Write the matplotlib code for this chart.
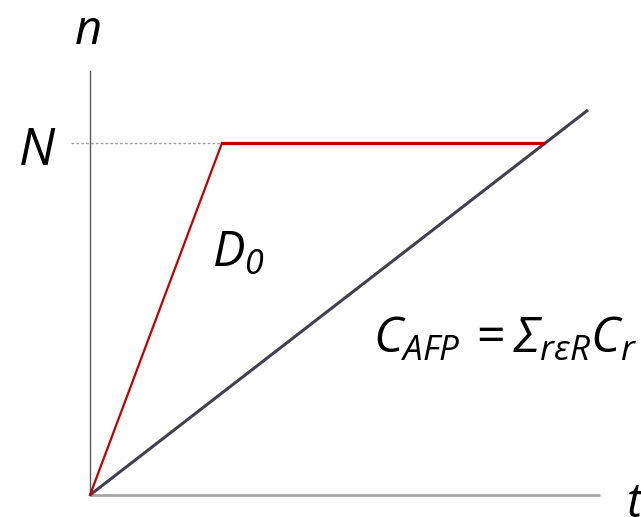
import matplotlib
matplotlib.use("Agg")
import matplotlib.pyplot as plt

plt.rcParams['font.family'] = ['Open Sans', 'DejaVu Sans']
plt.rcParams['mathtext.fontset'] = 'custom'
plt.rcParams['mathtext.rm'] = 'Open Sans:italic'
plt.rcParams['mathtext.it'] = 'Open Sans:italic'

# --- Data (arbitrary units, origin at 0,0) ---
N = 352
red_t = [0, 132, 455]
red_n = [0, N, N]
cap_t = [0, 498]
cap_n = [0, 385]
x_axis_end = 510
y_axis_end = 424
dash_start = -19

fig = plt.figure(figsize=(6.41, 5.17), dpi=100)
ax = fig.add_axes([0, 0, 1, 1])
ax.set_xlim(-90, 551)
ax.set_ylim(-22, 495)
ax.axis('off')

# axes lines
ax.plot([0, x_axis_end], [0, 0], color="#A6A6A6", lw=2, solid_capstyle='butt')
ax.plot([0, 0], [0, y_axis_end], color="#595959", lw=1)

# dashed guide at N
ax.plot([dash_start, red_t[1]], [N, N], color="#A0A0A0", lw=1, linestyle=(0, (2, 1.5)))

# capacity line and the red curve
ax.plot(cap_t, cap_n, color="#404050", lw=2.2, solid_capstyle='butt')
ax.plot(red_t[:2], red_n[:2], color="#C00000", lw=1.6)
ax.plot(red_t[1:], red_n[1:], color="#C00000", lw=2.3, solid_capstyle='butt')

# labels
ax.text(-2, 451, "n", fontsize=34, style='italic', ha='center', va='baseline')
ax.text(-53, 330, "N", fontsize=37, style='italic', ha='center', va='baseline')
ax.text(545, -22, "t", fontsize=34, style='italic', ha='center', va='baseline')
ax.text(122, 228, r"$D_0$", fontsize=35, ha='left', va='baseline')
ax.text(283, 142, r"$C_{AFP}\/=\Sigma_{r\epsilon R}C_r$", fontsize=36, ha='left', va='baseline')

fig.savefig("out.png", dpi=100)
